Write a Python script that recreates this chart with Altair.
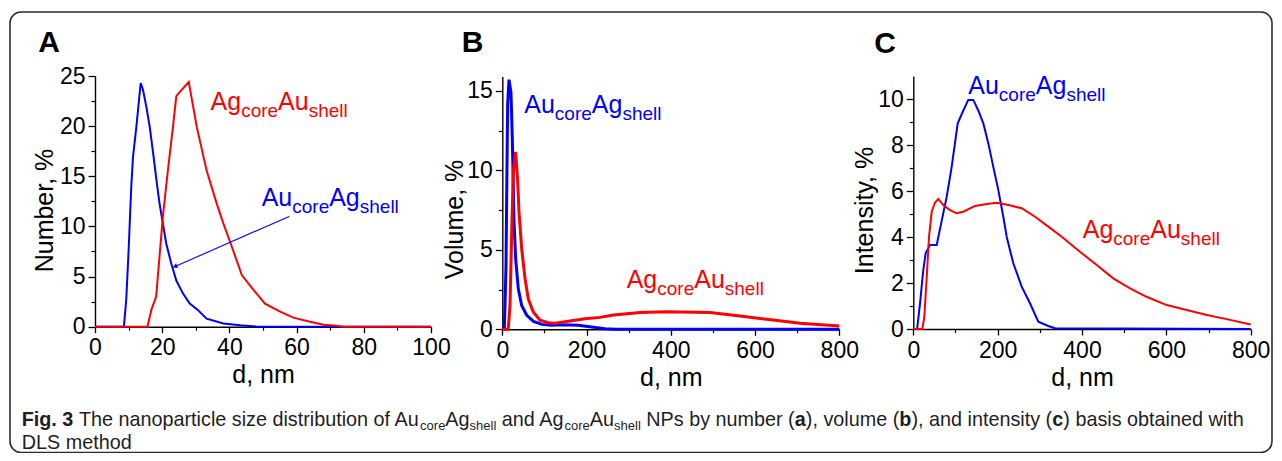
import altair as alt
import pandas as pd

# ---------------- data ----------------
# Panel A: number distribution
a_blue_d = [0, 8.6, 9.3, 10.0, 10.8, 11.3, 12.3, 13.6, 14.3, 15.3, 16.3, 17.3, 18.3, 19.2, 20.2,
            21.2, 22.7, 24.2, 26.2, 28.2, 30.5, 33.2, 38.2, 43.2, 48, 100]
a_blue_v = [0, 0, 2.7, 7.6, 14.0, 16.9, 19.9, 24.3, 23.6, 21.9, 19.9, 17.3, 14.6, 12.3, 10.3,
            8.3, 6.3, 4.6, 3.3, 2.3, 1.7, 0.8, 0.33, 0.15, 0.03, 0]
a_red_d = [0, 15.6, 16.8, 18.2, 19.2, 20.2, 21.7, 23.2, 24.2, 25.2, 27.9, 30.3, 33.2, 36.2, 38.2,
           40.7, 43.7, 47.1, 50.6, 55.1, 59.0, 64.0, 68.0, 72.0, 74.0, 100]
a_red_v = [0, 0, 1.7, 3.0, 7.0, 11.0, 15.6, 19.9, 23.0, 23.4, 24.4, 19.9, 15.6, 12.3, 10.3,
           8.0, 5.15, 3.7, 2.3, 1.5, 0.9, 0.5, 0.2, 0.1, 0, 0]

# Panel B: volume distribution
b_blue_d = [0, 4.7, 6.4, 8.8, 11, 12.7, 15.9, 20.6, 23.8, 27.8, 31.7, 38, 46, 58, 74, 94, 117,
            141, 180, 212, 244, 270, 800]
b_blue_v = [0, 0, 1.5, 4.0, 9.9, 14.1, 15.7, 14.9, 12.0, 6.75, 4.45, 2.55, 1.5, 0.88, 0.5, 0.31,
            0.25, 0.29, 0.25, 0.14, 0.04, 0, 0]
b_red_d = [0, 14, 18.3, 22.3, 26.1, 31.7, 36.5, 39.6, 46, 53.9, 61.7, 73.6, 89.5, 109, 125, 157,
           196, 232, 264, 327, 390, 493, 564, 628, 707, 800]
b_red_v = [0, 0, 1.5, 6.1, 9.9, 11.15, 9.3, 7.4, 5.07, 3.2, 1.9, 1.09, 0.57, 0.41, 0.38, 0.5,
           0.67, 0.75, 0.9, 1.05, 1.1, 1.05, 0.84, 0.63, 0.38, 0.2]

# Panel C: intensity distribution
c_blue_d = [0, 9, 15.9, 23.7, 29.4, 39.6, 55.5, 67.3, 79.2, 91, 105.3, 118.6, 130.4, 142.3, 154.1,
            166, 177.9, 189.7, 201.6, 213.4, 221.5, 237.1, 257, 276.7, 296.4, 320, 336, 800]
c_blue_v = [0, 0, 1.1, 2.57, 3.3, 3.65, 3.65, 4.7, 5.75, 7.05, 8.94, 9.5, 9.96, 9.96, 9.5,
            8.94, 8.07, 7.05, 6.04, 4.88, 4.0, 2.86, 1.84, 1.12, 0.32, 0.13, 0.03, 0]
c_red_d = [0, 21.3, 26, 31.7, 37.2, 43.6, 51.5, 59.3, 71.1, 87, 102.9, 118.6, 146.3, 174, 197.8,
           225.3, 257, 288.6, 320, 352, 395, 435, 474, 514, 553, 601, 648, 696, 743, 800]
c_red_v = [0, 0, 0.5, 2.2, 4.0, 5.1, 5.5, 5.65, 5.39, 5.17, 5.03, 5.1, 5.35, 5.43, 5.49,
           5.39, 5.25, 4.88, 4.45, 4.01, 3.36, 2.78, 2.2, 1.77, 1.4, 1.04, 0.83, 0.61, 0.43, 0.2]

# axis ticks
a_x_major = [0, 20, 40, 60, 80, 100]
a_x_minor = [10, 30, 50, 70, 90]
a_y_major = [0, 5, 10, 15, 20, 25]
a_y_minor = [2.5, 7.5, 12.5, 17.5, 22.5]
b_x_major = [0, 200, 400, 600, 800]
b_x_minor = [100, 300, 500, 700]
b_y_major = [0, 5, 10, 15]
b_y_minor = [2.5, 7.5, 12.5]
c_x_major = [0, 200, 400, 600, 800]
c_x_minor = [100, 300, 500, 700]
c_y_major = [0, 2, 4, 6, 8, 10]
c_y_minor = [1, 3, 5, 7, 9]

# texts
panel_letters = ["A", "B", "C"]
y_titles = ["Number, %", "Volume, %", "Intensity, %"]
x_title = "d, nm"
label_au = [("Au", False), ("core", True), ("Ag", False), ("shell", True)]
label_ag = [("Ag", False), ("core", True), ("Au", False), ("shell", True)]
# label anchors (data units, left edge / baseline)
a_label_red = (34.4, 21.6)
a_label_blue = (49.6, 12.0)
b_label_blue = (52.2, 13.6)
b_label_red = (295.3, 2.58)
c_label_blue = (130.4, 10.2)
c_label_red = (401.7, 3.97)
a_arrow = {"x0": [57.8], "y0": [11.0], "x1": [23.8], "y1": [6.0]}

caption_line1 = [
    ("Fig. 3", "b"), (" The nanoparticle size distribution of Au", "n"), ("core", "s"),
    ("Ag", "n"), ("shell", "s"), (" and Ag", "n"), ("core", "s"), ("Au", "n"), ("shell", "s"),
    (" NPs by number (", "n"), ("a", "b"), ("), volume (", "n"), ("b", "b"),
    ("), and intensity (", "n"), ("c", "b"), (") basis obtained with", "n"),
]
caption_line2 = [("DLS method", "n")]

# ---------------- style ----------------
BLUE = "#0000ff"
RED = "#ff0000"
FONT = "Liberation Sans"
W, H = 1266, 445

ARIAL = {' ': 278, '!': 278, '%': 889, '(': 333, ')': 333, ',': 278, '.': 278,
         'A': 667, 'B': 667, 'C': 722, 'D': 722, 'E': 667, 'F': 611, 'G': 778, 'H': 722, 'I': 278,
         'L': 556, 'M': 833, 'N': 722, 'O': 778, 'P': 667, 'S': 667, 'T': 611, 'V': 667,
         'a': 556, 'b': 556, 'c': 500, 'd': 556, 'e': 556, 'f': 278, 'g': 556, 'h': 556, 'i': 222,
         'j': 222, 'k': 500, 'l': 222, 'm': 833, 'n': 556, 'o': 556, 'p': 556, 'q': 556, 'r': 333,
         's': 500, 't': 278, 'u': 556, 'v': 500, 'w': 722, 'x': 500, 'y': 500, 'z': 500}
for ch in "0123456789":
    ARIAL[ch] = 556
ARIAL_B = {' ': 278, '.': 278, '3': 556, 'F': 611, 'i': 278, 'g': 611, 'a': 556, 'b': 611, 'c': 556}


def tw(s, size, bold=False):
    tbl = ARIAL_B if bold else ARIAL
    return sum(tbl.get(c, ARIAL.get(c, 556)) for c in s) / 1000.0 * size


ONE = pd.DataFrame({"k": [0]})


def sublabel(anchor, parts, color, xs, ys, size=25, subsize=19, subdy=7):
    df = pd.DataFrame({"x": [anchor[0]], "y": [anchor[1]]})
    marks, off = [], 0.0
    for text, sub in parts:
        s = subsize if sub else size
        marks.append(
            alt.Chart(df).mark_text(text=text, dx=off, dy=subdy if sub else 0, align="left",
                                    baseline="alphabetic", font=FONT, fontSize=s, color=color)
            .encode(x=alt.X("x:Q", scale=xs, axis=None), y=alt.Y("y:Q", scale=ys, axis=None))
        )
        off += tw(text, s)
    return marks


def make_panel(blue, red, xdom, xr, ydom, yr, xmaj, xmin, ymaj, ymin, xoff, yoff,
               ytitle, ytx, yty, lw, labels, arrow=None):
    xs = alt.Scale(domain=xdom, range=xr, nice=False, zero=False)
    ys = alt.Scale(domain=ydom, range=yr, nice=False, zero=False)
    common = dict(grid=False, domainColor="black", domainWidth=1.4, tickColor="black",
                  tickWidth=1.3, labelFont=FONT, labelFontSize=23, labelColor="black",
                  labelOverlap=False, labelFlush=False, labelBound=False, format="d",
                  titleFont=FONT, titleFontSize=25, titleFontWeight="normal", titleColor="black")
    xaxis = alt.Axis(orient="bottom", offset=xoff, values=xmaj, tickSize=6, labelPadding=4,
                     title=x_title, titleX=(xr[0] + xr[1]) / 2, titleY=56, titleAlign="center",
                     titleBaseline="alphabetic", titleAngle=0, **common)
    yaxis = alt.Axis(orient="left", offset=yoff, values=ymaj, tickSize=7, labelPadding=3,
                     title=ytitle, titleX=ytx, titleY=yty, titleAngle=270, titleAlign="center",
                     titleBaseline="alphabetic", **common)
    dfb = pd.DataFrame({"d": blue[0], "v": blue[1]})
    dfr = pd.DataFrame({"d": red[0], "v": red[1]})
    out = []
    # invisible carrier of the major axes
    out.append(alt.Chart(dfb).mark_line(opacity=0).encode(
        x=alt.X("d:Q", scale=xs, axis=xaxis), y=alt.Y("v:Q", scale=ys, axis=yaxis)))
    # minor ticks
    out.append(alt.Chart(dfb).mark_line(opacity=0).encode(
        x=alt.X("d:Q", scale=xs, axis=alt.Axis(orient="bottom", offset=xoff, values=xmin,
                                               labels=False, domain=False, grid=False,
                                               tickSize=3.5, tickColor="black", tickWidth=1.2,
                                               title=None)),
        y=alt.Y("v:Q", scale=ys, axis=alt.Axis(orient="left", offset=yoff, values=ymin,
                                               labels=False, domain=False, grid=False,
                                               tickSize=4, tickColor="black", tickWidth=1.2,
                                               title=None))))
    out.append(alt.Chart(dfb).mark_line(color=BLUE, strokeWidth=lw).encode(
        x=alt.X("d:Q", scale=xs, axis=None), y=alt.Y("v:Q", scale=ys, axis=None)))
    out.append(alt.Chart(dfr).mark_line(color=RED, strokeWidth=lw).encode(
        x=alt.X("d:Q", scale=xs, axis=None), y=alt.Y("v:Q", scale=ys, axis=None)))
    for anchor, parts, color in labels:
        out += sublabel(anchor, parts, color, xs, ys)
    if arrow is not None:
        adf = pd.DataFrame(arrow)
        out.append(alt.Chart(adf).mark_rule(color=BLUE, strokeWidth=1.1).encode(
            x=alt.X("x0:Q", scale=xs, axis=None), y=alt.Y("y0:Q", scale=ys, axis=None),
            x2="x1:Q", y2="y1:Q"))
        out.append(alt.Chart(adf).mark_point(shape="triangle-up", filled=True, size=28,
                                             angle=246, color=BLUE, opacity=1).encode(
            x=alt.X("x1:Q", scale=xs, axis=None), y=alt.Y("y1:Q", scale=ys, axis=None)))
    return out


layers = []
layers += make_panel((a_blue_d, a_blue_v), (a_red_d, a_red_v), [0, 100], [87, 423], [0, 25],
                     [318.7, 68], a_x_major, a_x_minor, a_y_major, a_y_minor, -126.3, -87,
                     y_titles[0], -43, 202, 2,
                     [(a_label_red, label_ag, RED), (a_label_blue, label_au, BLUE)], a_arrow)
layers += make_panel((b_blue_d, b_blue_v), (b_red_d, b_red_v), [0, 800], [494.3, 831.3], [0, 15.9],
                     [321.3, 68.5], b_x_major, b_x_minor, b_y_major, b_y_minor, -123.7, -494.3,
                     y_titles[1], -40, 211, 3,
                     [(b_label_blue, label_au, BLUE), (b_label_red, label_ag, RED)])
layers += make_panel((c_blue_d, c_blue_v), (c_red_d, c_red_v), [0, 800], [905.3, 1242.7], [0, 11],
                     [321, 68], c_x_major, c_x_minor, c_y_major, c_y_minor, -124, -905.3,
                     y_titles[2], -41, 202, 2,
                     [(c_label_blue, label_au, BLUE), (c_label_red, label_ag, RED)])

# frame
layers.append(alt.Chart(ONE).mark_rect(filled=False, stroke="#2b2b2b", strokeWidth=1.6,
                                       cornerRadius=11).encode(
    x=alt.value(2), x2=alt.value(1264), y=alt.value(4), y2=alt.value(444.5)))

# panel letters
for letter, px, py in zip(panel_letters, [30.3, 453.7, 866.3], [43.7, 44.3, 44.5]):
    layers.append(alt.Chart(ONE).mark_text(text=letter, font=FONT, fontSize=30, fontWeight="bold",
                                           align="left", baseline="alphabetic", color="black")
                  .encode(x=alt.value(px), y=alt.value(py)))


# caption
def caption(segments, x0, y, size=19.8, subsize=13, subdy=4):
    marks, off = [], 0.0
    for text, kind in segments:
        s = subsize if kind == "s" else size
        bold = kind == "b"
        lead = len(text) - len(text.lstrip(" "))
        core = text.strip(" ")
        start = off + tw(" " * lead, s, bold)
        marks.append(alt.Chart(ONE).mark_text(text=core, font=FONT, fontSize=s,
                                              fontWeight="bold" if bold else "normal",
                                              align="left", baseline="alphabetic", color="#1e1e1e",
                                              dy=subdy if kind == "s" else 0)
                     .encode(x=alt.value(x0 + start), y=alt.value(y)))
        off += tw(text, s, bold)
    return marks


layers += caption(caption_line1, 13.7, 417.5)
layers += caption(caption_line2, 13.7, 441)

chart = (alt.layer(*layers)
         .resolve_scale(x="independent", y="independent")
         .resolve_axis(x="independent", y="independent")
         .properties(width=W, height=H, padding=0, autosize=alt.AutoSizeParams(type="none"))
         .configure_view(stroke=None))

chart.save("out.html", embed_options={"renderer": "svg", "actions": False})
